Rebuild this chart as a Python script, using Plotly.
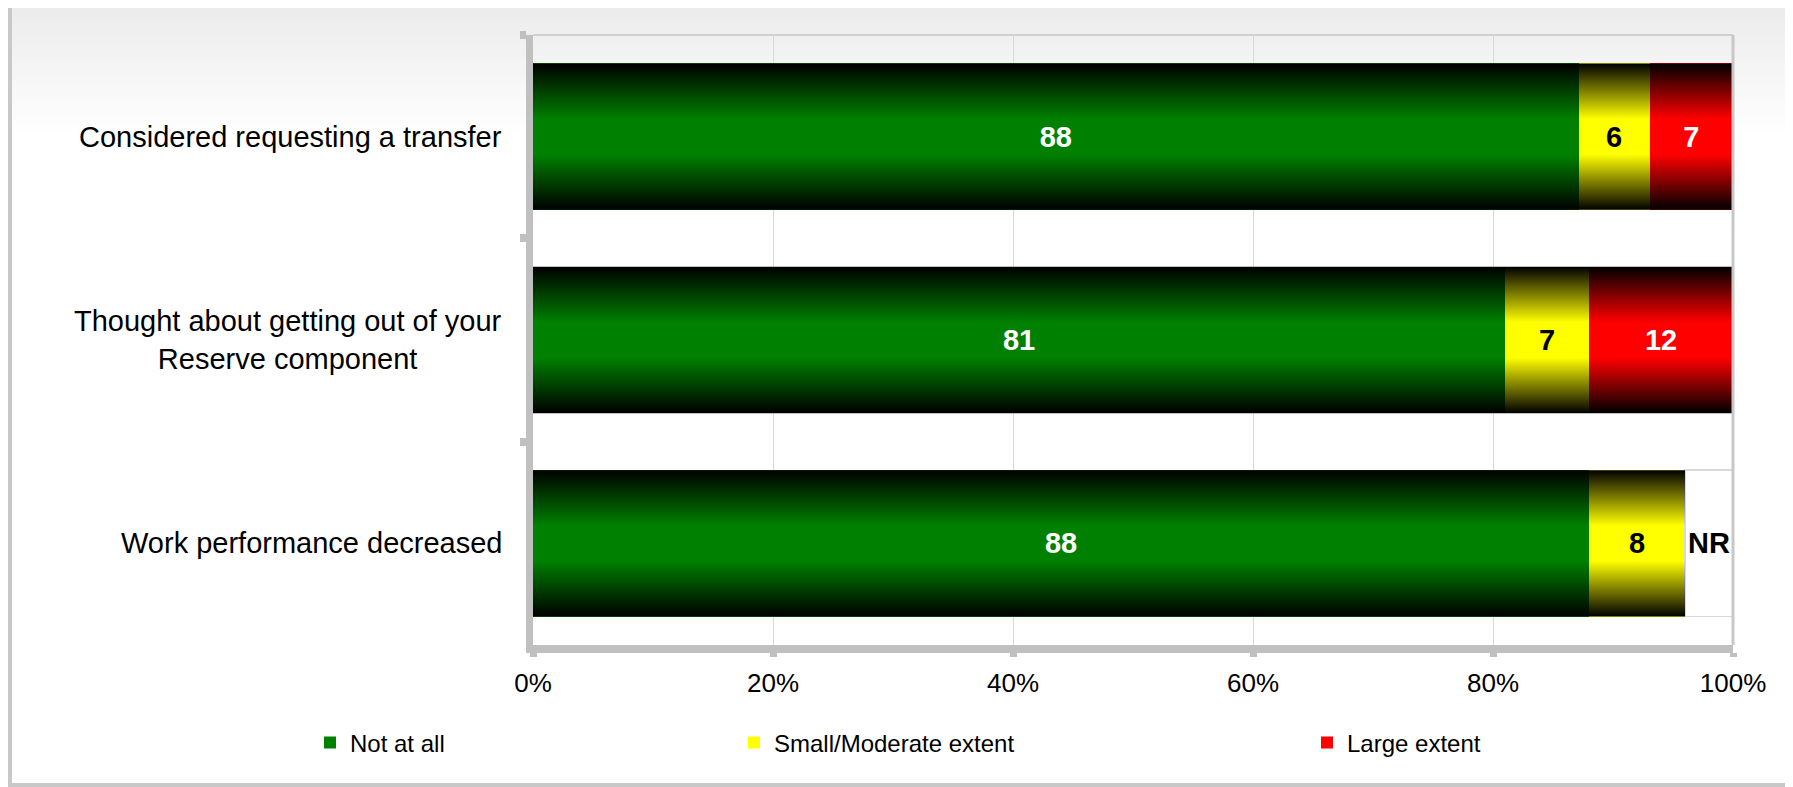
import plotly.graph_objects as go

# ---------------- data ----------------
categories = [
    "Considered requesting a transfer",
    "Thought about getting out of your<br>Reserve component",
    "Work performance decreased",
]
not_at_all = [88, 81, 88]
small_moderate = [6, 7, 8]
large_extent = [7, 12, None]
not_reportable = [None, None, 4]
nr_labels = ["", "", "NR"]
series_names = ["Not at all", "Small/Moderate extent", "Large extent"]
x_tick_vals = [0, 20, 40, 60, 80, 100]
x_tick_text = ["0%", "20%", "40%", "60%", "80%", "100%"]

# ---------------- style ----------------
OFF = 8  # page body margin of the browser
W, H = 1793 - OFF, 787 - OFF
# plot area in reference-pixel coordinates
PL, PR, PT, PB = 533, 1733, 35, 645
ML, MR, MT, MB = PL - OFF, (1793 - PR), PT - OFF, (787 - PB)
PW, PH = PR - PL, PB - PT
FONT = "Liberation Sans, Arial, sans-serif"
GREEN, YELLOW, RED = "#008000", "#FFFF00", "#FF0000"
AXIS_GRAY = "#c0c0c0"
BAR_W = 0.72


def px_x(px):
    return (px - PL) / PW


def px_y(py):
    return (PB - py) / PH


def lbl(vals):
    return ["" if v is None else str(v) for v in vals]


fig = go.Figure()
colors = [GREEN, YELLOW, RED]
txtcol = ["white", "black", "white"]
legends = ["legend", "legend2", "legend3"]
for name, vals, col, tc, lg in zip(series_names,
                                   [not_at_all, small_moderate, large_extent],
                                   colors, txtcol, legends):
    fig.add_trace(go.Bar(
        y=categories, x=vals, name=name, orientation="h",
        marker=dict(color=col, line=dict(width=0)),
        width=BAR_W,
        text=lbl(vals), textposition="inside", insidetextanchor="middle",
        constraintext="none",
        textfont=dict(family=FONT, size=29, color=tc, weight="bold"),
        legend=lg, hoverinfo="skip",
    ))

fig.add_trace(go.Bar(
    y=categories, x=not_reportable, name="NR", orientation="h",
    marker=dict(color="white", line=dict(width=1.5, color="#d9d9d9")),
    width=BAR_W,
    text=nr_labels, textposition="inside", insidetextanchor="middle",
    constraintext="none",
    textfont=dict(family=FONT, size=29, color="black", weight="bold"),
    showlegend=False, hoverinfo="skip",
))

# vertical shading over the coloured part of each bar (dark edges, bright middle)
shade_scale = [[0.0, "rgba(0,0,0,1)"], [0.38, "rgba(0,0,0,0)"],
               [0.62, "rgba(0,0,0,0)"], [1.0, "rgba(0,0,0,1)"]]
for i in range(len(categories)):
    parts = [not_at_all[i], small_moderate[i], large_extent[i]]
    total = sum(v for v in parts + [not_reportable[i]] if v is not None)
    vis_end = sum(v for v in parts if v is not None) / total * 100
    y0, y1 = i - BAR_W / 2, i + BAR_W / 2
    fig.add_trace(go.Scatter(
        x=[0, vis_end, vis_end, 0, 0], y=[y0, y0, y1, y1, y0],
        yaxis="y2", mode="lines", line=dict(width=0),
        fill="toself", fillgradient=dict(type="vertical", colorscale=shade_scale),
        showlegend=False, hoverinfo="skip",
    ))

shapes = []
# page background gradient (light gray at top fading to white)
n_bg = 26
for k in range(n_bg):
    y0p = 5 + k * 5
    c = int(236 + (255 - 236) * k / (n_bg - 1))
    shapes.append(dict(type="rect", xref="paper", yref="paper", layer="below",
                       x0=px_x(10), x1=px_x(1789), y0=px_y(y0p + 5.5), y1=px_y(y0p),
                       line=dict(width=0), fillcolor=f"rgb({c},{c},{c})"))
# outer frame
shapes.append(dict(type="rect", xref="paper", yref="paper", layer="below",
                   x0=px_x(10), x1=px_x(1789), y0=px_y(785), y1=px_y(5),
                   line=dict(width=4, color="#c8c8c8"), fillcolor="rgba(0,0,0,0)"))
# plot-area top border and right border
shapes.append(dict(type="line", xref="paper", yref="paper", layer="below",
                   x0=0, x1=1, y0=1, y1=1, line=dict(width=2, color="#d0d0d0")))
shapes.append(dict(type="line", xref="paper", yref="paper", layer="above",
                   x0=1, x1=1, y0=0, y1=1, line=dict(width=3, color="#c8c8c8")))

# category labels (centered multi-line)
annotations = []
for c in categories:
    annotations.append(dict(
        xref="paper", yref="y", x=0, y=c, xshift=-29, xanchor="right", yanchor="middle",
        text=c, showarrow=False, align="center",
        font=dict(family=FONT, size=29, color="black")))

legend_common = dict(orientation="h", yanchor="middle", xanchor="left",
                     bgcolor="rgba(0,0,0,0)", borderwidth=0,
                     font=dict(family=FONT, size=24, color="black"))
leg_y = px_y(743)

yrange = [len(categories) - 0.5, -0.5]
fig.update_layout(
    width=W, height=H,
    margin=dict(l=ML, r=MR, t=MT, b=MB, autoexpand=False),
    paper_bgcolor="white", plot_bgcolor="rgba(0,0,0,0)",
    barmode="stack", barnorm="percent",
    shapes=shapes, annotations=annotations,
    showlegend=True,
    legend=dict(x=px_x(350 - 40), y=leg_y, **legend_common),
    legend2=dict(x=px_x(774 - 40), y=leg_y, **legend_common),
    legend3=dict(x=px_x(1347 - 40), y=leg_y, **legend_common),
    xaxis=dict(range=[0, 100], tickvals=x_tick_vals, ticktext=x_tick_text,
               showgrid=True, gridcolor="#d9d9d9", gridwidth=1,
               showline=True, linecolor=AXIS_GRAY, linewidth=8,
               ticks="outside", ticklen=4, tickwidth=7, tickcolor=AXIS_GRAY,
               ticklabelstandoff=4,
               tickfont=dict(family=FONT, size=26, color="black"),
               zeroline=False, fixedrange=True),
    yaxis=dict(type="category", range=yrange,
               showgrid=False, showticklabels=False,
               showline=True, linecolor=AXIS_GRAY, linewidth=7,
               ticks="outside", tickson="boundaries", ticklen=6, tickwidth=8,
               tickcolor=AXIS_GRAY, fixedrange=True),
    yaxis2=dict(overlaying="y", range=yrange, visible=False, fixedrange=True),
)

fig.write_html("out.html")
